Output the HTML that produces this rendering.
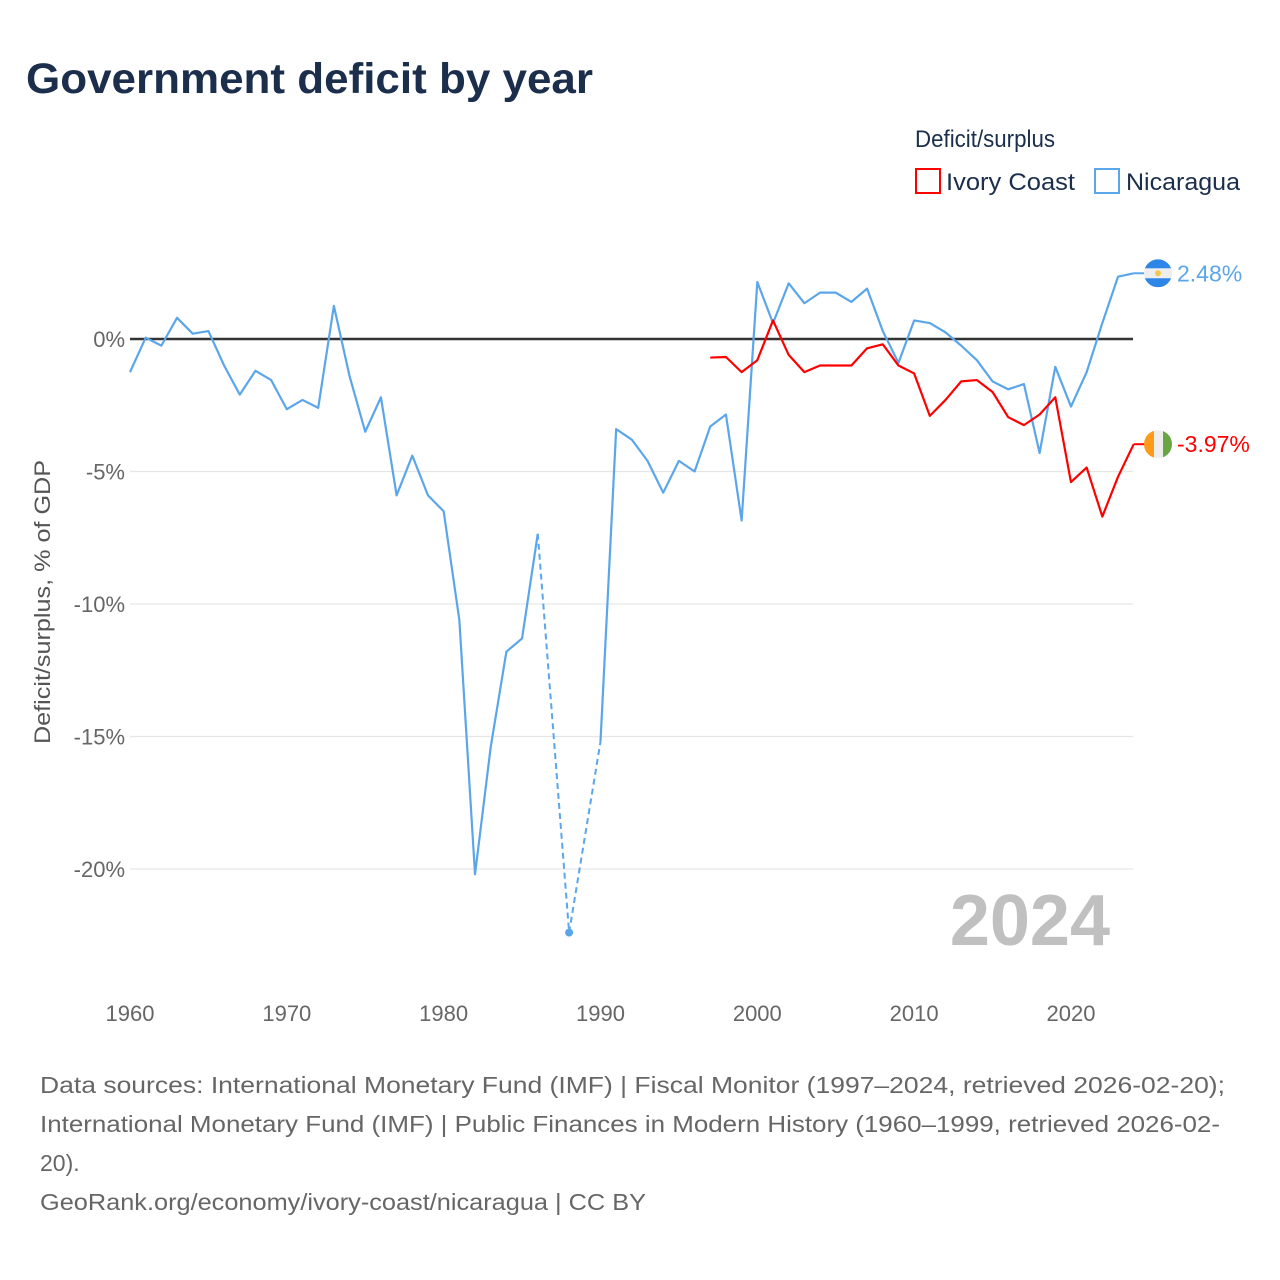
<!DOCTYPE html>
<html><head><meta charset="utf-8">
<style>
body{margin:0;background:#fff;font-family:"Liberation Sans",sans-serif;}
#wrap{position:relative;width:1280px;height:1280px;overflow:hidden;}
</style></head>
<body>
<div id="wrap">
<svg id="chart" width="1280" height="1280" font-family="Liberation Sans, sans-serif">
<text x="26" y="93" font-size="43" font-weight="bold" fill="#1b2f4c" textLength="567" lengthAdjust="spacingAndGlyphs">Government deficit by year</text>
<text x="915" y="147" font-size="24" fill="#1b2f4c" textLength="140" lengthAdjust="spacingAndGlyphs">Deficit/surplus</text>
<rect x="916" y="169" width="24" height="24" fill="none" stroke="#ff0000" stroke-width="2"/>
<text x="946" y="190" font-size="24" fill="#1b2f4c" textLength="129" lengthAdjust="spacingAndGlyphs">Ivory Coast</text>
<rect x="1095" y="169" width="24" height="24" fill="none" stroke="#5ba6ea" stroke-width="2"/>
<text x="1126" y="190" font-size="24" fill="#1b2f4c" textLength="114" lengthAdjust="spacingAndGlyphs">Nicaragua</text>
<g id="grid"></g>
<text x="1110" y="945" font-size="72" font-weight="bold" fill="#c0c0c0" text-anchor="end">2024</text>
<g id="series"></g>
<text transform="translate(50,602) rotate(-90)" font-size="22" fill="#555" text-anchor="middle" textLength="284" lengthAdjust="spacingAndGlyphs">Deficit/surplus, % of GDP</text>
<text x="40" y="1093" font-size="23" fill="#666" textLength="1185" lengthAdjust="spacingAndGlyphs">Data sources: International Monetary Fund (IMF) | Fiscal Monitor (1997–2024, retrieved 2026-02-20);</text>
<text x="40" y="1132" font-size="23" fill="#666" textLength="1180" lengthAdjust="spacingAndGlyphs">International Monetary Fund (IMF) | Public Finances in Modern History (1960–1999, retrieved 2026-02-</text>
<text x="40" y="1171" font-size="23" fill="#666">20).</text>
<text x="40" y="1210" font-size="23" fill="#666" textLength="606" lengthAdjust="spacingAndGlyphs">GeoRank.org/economy/ivory-coast/nicaragua | CC BY</text>
</svg>
</div>
<script>
const yTicks=[0,-5,-10,-15,-20];
const xTicks=[1960,1970,1980,1990,2000,2010,2020];
const nicYears=[1960,1961,1962,1963,1964,1965,1966,1967,1968,1969,1970,1971,1972,1973,1974,1975,1976,1977,1978,1979,1980,1981,1982,1983,1984,1985,1986,1988,1990,1991,1992,1993,1994,1995,1996,1997,1998,1999,2000,2001,2002,2003,2004,2005,2006,2007,2008,2009,2010,2011,2012,2013,2014,2015,2016,2017,2018,2019,2020,2021,2022,2023,2024];
const nicValues=[-1.25,0.05,-0.25,0.8,0.2,0.3,-1.0,-2.1,-1.2,-1.55,-2.65,-2.3,-2.6,1.25,-1.4,-3.5,-2.2,-5.9,-4.4,-5.9,-6.5,-10.6,-20.2,-15.4,-11.8,-11.3,-7.35,-22.4,-15.2,-3.4,-3.8,-4.6,-5.8,-4.6,-5.0,-3.3,-2.85,-6.85,2.15,0.6,2.1,1.35,1.75,1.75,1.4,1.9,0.3,-0.9,0.7,0.6,0.25,-0.25,-0.8,-1.6,-1.9,-1.7,-4.3,-1.05,-2.55,-1.25,0.6,2.35,2.48];
const civYears=[1997,1998,1999,2000,2001,2002,2003,2004,2005,2006,2007,2008,2009,2010,2011,2012,2013,2014,2015,2016,2017,2018,2019,2020,2021,2022,2023,2024];
const civValues=[-0.7,-0.68,-1.25,-0.8,0.7,-0.6,-1.25,-1.0,-1.0,-1.0,-0.35,-0.2,-1.0,-1.3,-2.9,-2.3,-1.6,-1.55,-2.0,-2.95,-3.25,-2.85,-2.2,-5.4,-4.85,-6.7,-5.2,-3.97];

const NS="http://www.w3.org/2000/svg";
const X=y=>130+(y-1960)*(1003.7/64);
const Y=v=>339-v*26.5;
function mk(tag,attrs,parent){const e=document.createElementNS(NS,tag);for(const k in attrs)e.setAttribute(k,attrs[k]);parent.appendChild(e);return e;}
const grid=document.getElementById('grid'),ser=document.getElementById('series');
yTicks.forEach(t=>{
  const l=mk('line',{x1:130,x2:1133,y1:Y(t),y2:Y(t),stroke:t===0?'#333':'#e6e6e6','stroke-width':t===0?2.5:1.2},grid);
  
  
  const tx=mk('text',{x:125,y:Y(t)+8,'font-size':22,fill:'#666','text-anchor':'end'},grid);
  tx.textContent=t+'%';
  
  
});
xTicks.forEach(t=>{
  const tx=mk('text',{x:X(t),y:1021,'font-size':22,fill:'#666','text-anchor':'middle'},grid);
  tx.textContent=t;
  
  
});
function drawSeries(years,vals,color,name){
  let solid=[],segs=[];
  for(let i=0;i<years.length;i++){
    if(i>0&&years[i]-years[i-1]>1){
      const d=mk('line',{x1:X(years[i-1]),y1:Y(vals[i-1]),x2:X(years[i]),y2:Y(vals[i]),stroke:color,'stroke-width':2,'stroke-dasharray':'6,4'},ser);
      
      
      if(solid.length)segs.push(solid);solid=[];
    }
    solid.push([X(years[i]),Y(vals[i])]);
  }
  segs.push(solid);
  segs.forEach(s=>{
    if(s.length===1){
      const c=mk('circle',{cx:s[0][0],cy:s[0][1],r:4,fill:color},ser);
      
      
    }else{
      const p=mk('polyline',{points:s.map(q=>q.join(',')).join(' '),fill:'none',stroke:color,'stroke-width':2.2,'stroke-linejoin':'round'},ser);
      
      
    }
  });
}
drawSeries(nicYears,nicValues,'#5ba6ea','nicaragua');
drawSeries(civYears,civValues,'#ff0000','ivory-coast');
function endLabel(years,vals,color,name,flag){
  const v=vals[vals.length-1],y=Y(v),x=X(years[years.length-1]);
  mk('line',{x1:x,x2:1145,y1:y,y2:y,stroke:color,'stroke-width':2},ser);
  const g=mk('g',{},ser);
  
  
  const cx=1158,r=14;
  mk('clipPath',{id:'c'+name},g).appendChild(document.createElementNS(NS,'circle'));
  const cc=g.querySelector('clipPath circle');cc.setAttribute('cx',cx);cc.setAttribute('cy',y);cc.setAttribute('r',r);
  const gg=mk('g',{'clip-path':'url(#c'+name+')'},g);
  if(flag==='nic'){
    mk('rect',{x:cx-r,y:y-r,width:2*r,height:2*r,fill:'#eee'},gg);
    mk('rect',{x:cx-r,y:y-r,width:2*r,height:9,fill:'#2e86e8'},gg);
    mk('rect',{x:cx-r,y:y+r-9,width:2*r,height:9,fill:'#2e86e8'},gg);
    mk('circle',{cx:cx,cy:y,r:3,fill:'#f2c94c'},gg);
  }else{
    mk('rect',{x:cx-r,y:y-r,width:10,height:2*r,fill:'#ff9a1a'},gg);
    mk('rect',{x:cx-r+10,y:y-r,width:9,height:2*r,fill:'#eee'},gg);
    mk('rect',{x:cx-r+19,y:y-r,width:10,height:2*r,fill:'#6aa543'},gg);
  }
  const t=mk('text',{x:1177,y:y+8,'font-size':23,fill:color},ser);
  t.textContent=v.toFixed(2)+'%';
  
  
}
endLabel(nicYears,nicValues,'#5ba6ea','nicaragua','nic');
endLabel(civYears,civValues,'#ff0000','ivory-coast','civ');
</script>
</body></html>
